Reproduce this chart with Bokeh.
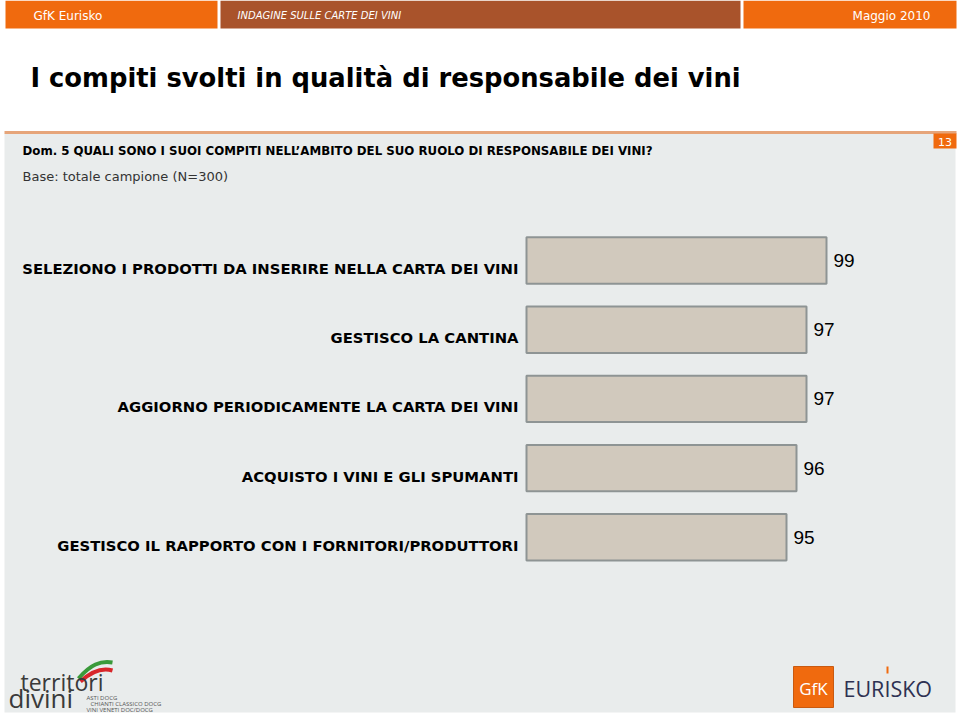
from bokeh.plotting import figure
from bokeh.models import Range1d, ColumnDataSource
from bokeh.core.properties import value
from bokeh.embed import file_html
from bokeh.resources import INLINE

# ---------------- data ----------------
categories = [
    "SELEZIONO I PRODOTTI DA INSERIRE NELLA CARTA DEI VINI",
    "GESTISCO LA CANTINA",
    "AGGIORNO PERIODICAMENTE LA CARTA DEI VINI",
    "ACQUISTO I VINI E GLI SPUMANTI",
    "GESTISCO IL RAPPORTO CON I FORNITORI/PRODUTTORI",
]
values = [99, 97, 97, 96, 95]
value_labels = [str(v) for v in values]

title_text = "I compiti svolti in qualità di responsabile dei vini"
question_text = "Dom. 5 QUALI SONO I SUOI COMPITI NELL\u2019AMBITO DEL SUO RUOLO DI RESPONSABILE DEI VINI?"
base_text = "Base: totale campione (N=300)"
header_left = "GfK Eurisko"
header_mid = "INDAGINE SULLE CARTE DEI VINI"
header_right = "Maggio 2010"
page_number = "13"

# ---------------- layout constants ----------------
W, H = 960, 716
VAL_MIN = 69          # value axis minimum (bars start here)
BAR_X0 = 526          # pixel where the value axis starts
PX_PER_UNIT = 10.0
ROW0_Y = 260          # pixel centre of first row
ROW_STEP = 69.2

ORANGE = "#F06A0E"
BROWN = "#A9532B"
PANEL = "#E9ECEC"
VERDANA = value("DejaVu Sans")
ARIAL = value("Liberation Sans")
LOGO = value("Open Sans")

p = figure(width=W, height=H, x_range=Range1d(0, W), y_range=Range1d(H, 0),
           x_axis_type=None, y_axis_type=None, output_backend="svg",
           toolbar_location=None, min_border=0)
p.grid.visible = False
p.outline_line_color = None
p.background_fill_color = "white"
p.border_fill_color = "white"

p.extra_x_ranges = {"val": Range1d(VAL_MIN - BAR_X0 / PX_PER_UNIT,
                                   VAL_MIN + (W - BAR_X0) / PX_PER_UNIT)}
p.extra_y_ranges = {"rank": Range1d((H - ROW0_Y) / ROW_STEP, -ROW0_Y / ROW_STEP)}

# ---------------- page decorations ----------------
# header band
p.quad(left=[5, 220, 743], right=[217, 740, 956], top=[0, 0, 0], bottom=[28, 28, 28],
       fill_color=[ORANGE, BROWN, ORANGE], line_color=None)
p.text(x=[33], y=[15], text=[header_left], text_color="white", text_font=VERDANA,
       text_font_size="12px", text_baseline="middle")
p.text(x=[237], y=[15], text=[header_mid], text_color="white", text_font=VERDANA,
       text_font_size="10px", text_font_style="italic", text_baseline="middle")
p.text(x=[930], y=[15], text=[header_right], text_color="white", text_font=VERDANA,
       text_font_size="12px", text_baseline="middle", text_align="right")

# title
p.text(x=[30], y=[77], text=[title_text], text_color="black", text_font=VERDANA,
       text_font_size="25.8px", text_font_style="bold", text_baseline="middle")

# panel
p.quad(left=[4], right=[955], top=[133], bottom=[712], fill_color=PANEL, line_color=None)
p.segment(x0=[4], y0=[132], x1=[956], y1=[132], line_color="#E6A57A", line_width=3)
p.quad(left=[933], right=[956], top=[133], bottom=[148], fill_color=ORANGE, line_color=None)
p.text(x=[944.5], y=[141], text=[page_number], text_color="white", text_font=VERDANA,
       text_font_size="11px", text_baseline="middle", text_align="center")

p.text(x=[22], y=[150], text=[question_text], text_color="black", text_font=VERDANA,
       text_font_size="11.8px", text_font_style="bold", text_baseline="middle")
p.text(x=[22], y=[176], text=[base_text], text_color="#333333", text_font=VERDANA,
       text_font_size="13px", text_baseline="middle")

# ---------------- bars ----------------
src = ColumnDataSource(dict(idx=list(range(len(categories))), cat=categories,
                            val=values, lab=value_labels))
p.hbar(y="idx", left=VAL_MIN, right="val", height=0.67, source=src,
       x_range_name="val", y_range_name="rank",
       fill_color="#D1C9BD", line_color="#8E9494", line_width=2)
p.text(x=BAR_X0 - 8, y="idx", text="cat", source=src, y_range_name="rank",
       text_align="right", text_baseline="middle", y_offset=8,
       text_font=VERDANA, text_font_size="14.8px", text_font_style="bold",
       text_color="black")
p.text(x="val", y="idx", text="lab", source=src, x_range_name="val", y_range_name="rank",
       text_align="left", text_baseline="middle", x_offset=7,
       text_font=ARIAL, text_font_size="19px", text_color="black")

# ---------------- logos ----------------
# GfK Eurisko
p.quad(left=[793], right=[833], top=[666], bottom=[707], fill_color=ORANGE,
       line_color="#C95A10", line_width=1)
p.text(x=[813], y=[688], text=["GfK"], text_color="white", text_font=LOGO,
       text_font_size="17px", text_align="center", text_baseline="middle")
p.text(x=[843], y=[688], text=["EURISKO"], text_color="#2E3152", text_font=LOGO,
       text_font_size="21.5px", text_baseline="middle")
p.segment(x0=[887], y0=[666], x1=[887], y1=[673], line_color=ORANGE, line_width=2)

# territori divini
p.bezier(x0=[78], y0=[678], x1=[112], y1=[662], cx0=[90], cy0=[664], cx1=[100], cy1=[660],
         line_color="#3A9A3A", line_width=4)
p.bezier(x0=[80], y0=[681], x1=[112], y1=[670], cx0=[92], cy0=[670], cx1=[102], cy1=[667],
         line_color="#D8262A", line_width=4)
p.text(x=[20], y=[681], text=["territori"], text_color="#3A3A3A", text_font=LOGO,
       text_font_size="23px", text_baseline="middle")
p.text(x=[8], y=[697], text=["divini"], text_color="#3A3A3A", text_font=LOGO,
       text_font_size="26px", text_baseline="middle")
p.text(x=[86, 90, 86], y=[697, 703, 709],
       text=["ASTI DOCG", "CHIANTI CLASSICO DOCG", "VINI VENETI DOC/DOCG"],
       text_color="#555555", text_font=LOGO, text_font_size="6px",
       text_baseline="middle")

open("out.html", "w").write(file_html(p, INLINE))
